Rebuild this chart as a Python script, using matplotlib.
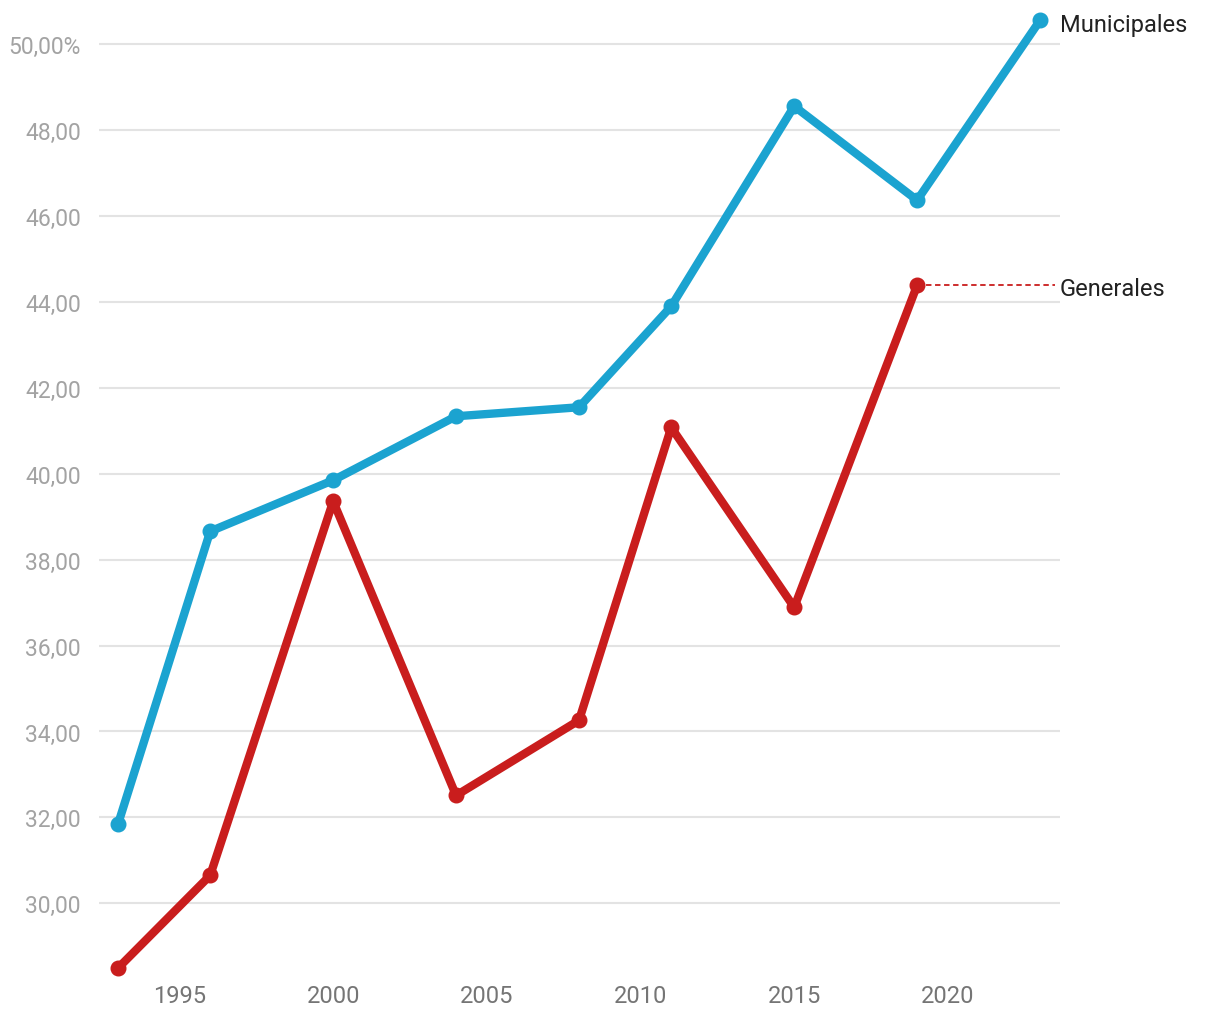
import matplotlib
matplotlib.use("Agg")
import matplotlib.pyplot as plt

years_mun = [1993, 1996, 2000, 2004, 2008, 2011, 2015, 2019, 2023]
municipales = [31.84, 38.66, 39.85, 41.34, 41.55, 43.90, 48.56, 46.37, 50.56]

years_gen = [1993, 1996, 2000, 2004, 2008, 2011, 2015, 2019]
generales = [28.49, 30.65, 39.36, 32.51, 34.26, 41.08, 36.89, 44.39]

y_ticks = [30, 32, 34, 36, 38, 40, 42, 44, 46, 48, 50]
x_ticks = [1995, 2000, 2005, 2010, 2015, 2020]

BLUE = "#1ba3d0"
RED = "#c91d1d"

plt.rcParams["font.family"] = ["Roboto", "DejaVu Sans"]

fig = plt.figure(figsize=(12.2, 10.2), dpi=100)
ax = fig.add_axes([0.0811, 0.044, 0.7878, 0.941])

ax.set_xlim(1992.38, 2023.65)
ax.set_ylim(28.35, 50.70)

for y in y_ticks:
    ax.axhline(y, color="#e3e3e3", lw=1.5, zorder=0)

ax.plot(years_mun, municipales, color=BLUE, lw=6, marker="o", ms=10.5,
        solid_capstyle="round", clip_on=False, zorder=3)
ax.plot(years_gen, generales, color=RED, lw=6, marker="o", ms=10.5,
        solid_capstyle="round", clip_on=False, zorder=3)

# dotted leader to the Generales label
ax.plot([years_gen[-1], 2023.5], [generales[-1], generales[-1]],
        color=RED, lw=1.3, ls=(0, (3, 2)), zorder=2, clip_on=False)

ax.text(2023.65, municipales[-1] - 0.1, "Municipales", fontsize=17,
        color="#222222", ha="left", va="center")
ax.text(2023.65, generales[-1] - 0.08, "Generales", fontsize=17,
        color="#222222", ha="left", va="center")

ax.set_yticks(y_ticks)
ax.set_yticklabels([f"{v:.2f}".replace(".", ",") + ("%" if v == 50 else "")
                    for v in y_ticks])
ax.set_xticks(x_ticks)
ax.set_xticklabels([str(x) for x in x_ticks])
ax.tick_params(axis="y", length=0, pad=13, labelsize=16.5, labelcolor="#a3a3a3")
ax.tick_params(axis="x", length=0, pad=7, labelsize=17, labelcolor="#757575")

for s in ax.spines.values():
    s.set_visible(False)

fig.savefig("out.png", dpi=100)
